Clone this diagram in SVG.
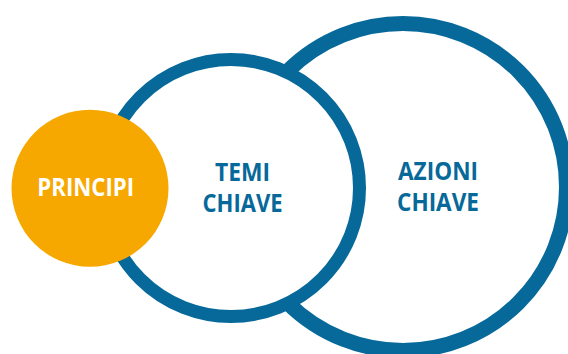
<svg xmlns="http://www.w3.org/2000/svg" width="568" height="354" viewBox="0 0 568 354">
<style>
.ring{fill:#ffffff;stroke:#06699A;}
.lbl{font-family:"Open Sans","Noto Sans",sans-serif;font-weight:700;font-size:25px;text-anchor:middle;}
.blue{fill:#06699A;}
.white{fill:#ffffff;}
</style>
<rect width="568" height="354" fill="#ffffff"/>
<g id="azioni">
<circle class="ring" cx="403" cy="187" r="163.5" stroke-width="15"/>
<text class="lbl blue" x="438" y="180" textLength="80" lengthAdjust="spacingAndGlyphs">AZIONI</text>
<text class="lbl blue" x="438" y="210.7" textLength="82" lengthAdjust="spacingAndGlyphs">CHIAVE</text>
</g>
<g id="temi">
<circle class="ring" cx="231" cy="188" r="128.5" stroke-width="13"/>
<text class="lbl blue" x="242.6" y="180.7" textLength="55" lengthAdjust="spacingAndGlyphs">TEMI</text>
<text class="lbl blue" x="242.6" y="211.7" textLength="80" lengthAdjust="spacingAndGlyphs">CHIAVE</text>
</g>
<g id="principi">
<circle cx="90" cy="188.3" r="78.5" fill="#F7A800"/>
<text class="lbl white" x="85.7" y="195.7" textLength="96.7" lengthAdjust="spacingAndGlyphs">PRINCIPI</text>
</g>
<g id="connectors"></g>
</svg>
